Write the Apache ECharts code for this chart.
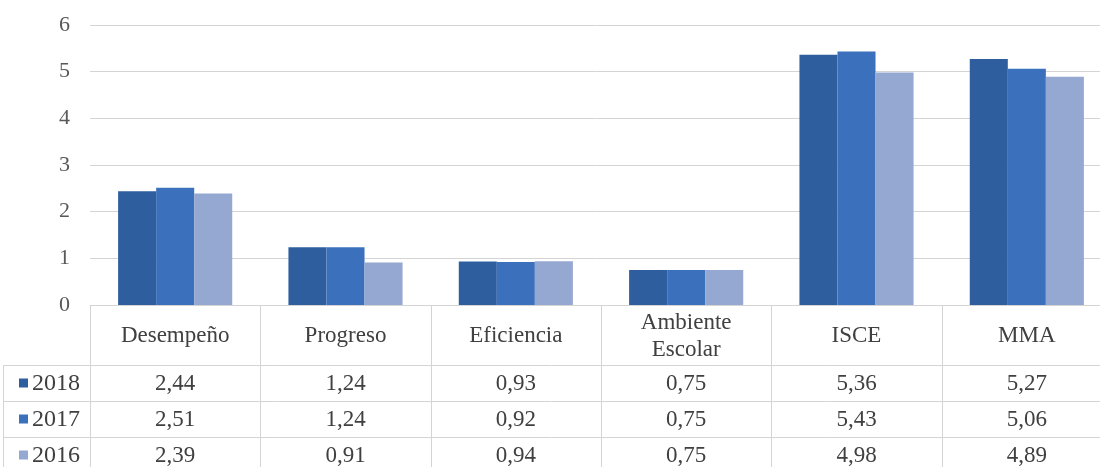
<!DOCTYPE html>
<html><head><meta charset="utf-8">
<script src="https://cdn.jsdelivr.net/npm/echarts@6/dist/echarts.min.js"></script>
<style>html,body{margin:0;padding:0;background:#fff;overflow:hidden}#c{width:1100px;height:467px}</style>
</head><body><div id="c"></div>
<script>
const categories = ['Desempeño', 'Progreso', 'Eficiencia', 'Ambiente\nEscolar', 'ISCE', 'MMA'];
const seriesNames = ['2018', '2017', '2016'];
const v2018 = [2.44, 1.24, 0.93, 0.75, 5.36, 5.27];
const v2017 = [2.51, 1.24, 0.92, 0.75, 5.43, 5.06];
const v2016 = [2.39, 0.91, 0.94, 0.75, 4.98, 4.89];
const yMin = 0, yMax = 6, yStep = 1;

const values = [v2018, v2017, v2016];
const colors = ['#2F5E9F', '#3B70BC', '#94A8D1'];
const FONT = 'Liberation Serif';
const TXT = '#404040';
const LINE = '#D4D4D4';
const TFS = 23;

const chart = echarts.init(document.getElementById('c'), null, {renderer: 'canvas'});
const fmt = v => v.toFixed(2).replace('.', ',');

chart.setOption({
  animation: false,
  backgroundColor: '#fff',
  grid: {left: 90, right: -12, top: 25, bottom: 162, containLabel: false, outerBoundsMode: 'none'},
  xAxis: {
    type: 'category', data: categories,
    axisLine: {show: true, lineStyle: {color: LINE, width: 1}},
    axisTick: {show: false},
    axisLabel: {fontFamily: FONT, fontSize: TFS, color: TXT, margin: 31, verticalAlign: 'middle', lineHeight: 27, interval: 0}
  },
  yAxis: {
    type: 'value', min: yMin, max: yMax, interval: yStep,
    axisLine: {show: false}, axisTick: {show: false},
    axisLabel: {fontFamily: FONT, fontSize: 22, color: '#595959', margin: 20},
    splitLine: {lineStyle: {color: LINE, width: 1}}
  },
  series: seriesNames.map((n, i) => ({
    name: n, type: 'bar', data: values[i],
    barGap: '0%', barCategoryGap: '33%',
    itemStyle: {color: colors[i]}
  }))
});

function drawTable() {
  const y0 = chart.convertToPixel({yAxisIndex: 0}, 0);
  const xc = categories.map((c, i) => chart.convertToPixel({xAxisIndex: 0}, i));
  const colW = xc[1] - xc[0];
  const headH = 60, rowH = 36;
  const leftX = 3, rightX = 1100;
  const els = [];
  const hline = (y, x1, x2) => els.push({type: 'line', shape: {x1: x1, y1: y, x2: x2, y2: y}, style: {stroke: LINE, lineWidth: 1}, silent: true});
  const vline = (x, y1, y2) => els.push({type: 'line', shape: {x1: x, y1: y1, x2: x, y2: y2}, style: {stroke: LINE, lineWidth: 1}, silent: true});
  const bottom = y0 + headH + rowH * seriesNames.length;
  for (let r = 0; r <= seriesNames.length; r++) hline(Math.round(y0 + headH + r * rowH) + 0.5, leftX, rightX);
  vline(leftX + 0.5, y0 + headH, bottom);
  for (let i = 0; i <= categories.length; i++) {
    const x = Math.round(xc[0] - colW / 2 + i * colW) + 0.5;
    vline(x, y0, bottom);
  }
  seriesNames.forEach((n, r) => {
    const yc = y0 + headH + r * rowH + rowH / 2;
    els.push({type: 'rect', shape: {x: 19, y: yc - 4.5, width: 9, height: 9}, style: {fill: colors[r]}, silent: true});
    els.push({type: 'text', x: 32, y: yc + 1, style: {text: n, font: (TFS + 1) + 'px "' + FONT + '"', fill: TXT, textAlign: 'left', textVerticalAlign: 'middle'}, silent: true});
    values[r].forEach((v, i) => {
      els.push({type: 'text', x: xc[i], y: yc + 1, style: {text: fmt(v), font: TFS + 'px "' + FONT + '"', fill: TXT, textAlign: 'center', textVerticalAlign: 'middle'}, silent: true});
    });
  });
  chart.setOption({graphic: {elements: els}});
}
drawTable();
</script></body></html>
